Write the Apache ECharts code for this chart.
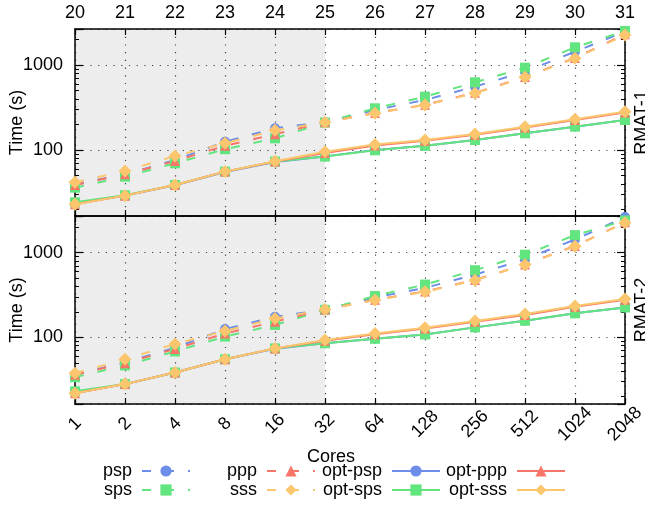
<!DOCTYPE html>
<html>
<head>
<meta charset="utf-8">
<script src="https://cdn.jsdelivr.net/npm/echarts@6/dist/echarts.min.js"></script>
<style>
html, body { margin: 0; padding: 0; background: #fff; }
#chart { width: 645px; height: 512px; }
</style>
</head>
<body>
<div id="chart"></div>
<script>
// x categories (cores) and the scale labels on the top axis
const cores = ['1', '2', '4', '8', '16', '32', '64', '128', '256', '512', '1024', '2048'];
const scales = ['20', '21', '22', '23', '24', '25', '26', '27', '28', '29', '30', '31'];

// RMAT-1, time in seconds
const r1_psp = [39.5, 51.7, 76, 125, 180, 212, 295, 387, 556, 834, 1433, 2466];
const r1_sps = [36, 48.5, 69.6, 102, 137, 210, 309, 424, 625, 929, 1614, 2512];
const r1_ppp = [38.6, 51.7, 74, 112, 153, 212, 272, 340, 470, 720, 1210, 2300];
const r1_sss = [41.7, 56.6, 85, 120, 170, 212, 270, 338, 465, 716, 1200, 2250];
const r1_opt_psp = [23.5, 29, 38.5, 55, 72, 84, 100, 112, 131, 157, 188, 225];
const r1_opt_sps = [24.2, 29.3, 38.7, 55.6, 73, 83.5, 99, 112, 131, 157, 188, 225];
const r1_opt_ppp = [23, 29, 38.7, 55.6, 73, 92, 113, 128, 151, 184, 225, 276];
const r1_opt_sss = [23, 29, 38.7, 55.6, 73.5, 95.5, 116, 131, 154, 188, 230, 282];

// RMAT-2
const r2_psp = [36, 50.7, 75.5, 125, 175, 213, 295, 384, 550, 836, 1430, 2630];
const r2_sps = [33.8, 46.5, 68, 102, 140, 211, 307, 420, 620, 946, 1610, 2400];
const r2_ppp = [36, 49.5, 73, 111, 153, 213, 277, 347, 476, 726, 1200, 2280];
const r2_sss = [37.7, 55, 83.6, 119, 167, 213, 275, 345, 473, 722, 1190, 2260];
const r2_opt_psp = [22, 28, 38.4, 55, 73, 85, 96, 108, 131, 157, 192, 225];
const r2_opt_sps = [23, 28, 38.4, 55, 74, 85, 96, 108, 131, 157, 192, 225];
const r2_opt_ppp = [21.9, 28, 38.4, 55, 74, 91, 109, 127, 153, 184, 229, 277];
const r2_opt_sss = [21.9, 28, 38.4, 55, 74, 93, 111, 130, 156, 188, 234, 283];

const FONT = 'Liberation Sans';
const BLUE = '#6d8ee8', GREEN = '#62e47e', RED = '#f7766a', ORANGE = '#fbc66e';

const chart = echarts.init(document.getElementById('chart'));

function line(name, data, grid, dashed, color, symbol, size) {
    return {
        name: name,
        type: 'line',
        xAxisIndex: grid * 2,
        yAxisIndex: grid * 2,
        data: data,
        symbol: symbol,
        symbolSize: size,
        showAllSymbol: true,
        animation: false,
        itemStyle: { color: color },
        lineStyle: { color: color, width: 2, type: dashed ? [9, 14] : 'solid' }
    };
}

function shade() {
    return {
        silent: true,
        itemStyle: { color: 'rgba(0,0,0,0.07)' },
        data: [[{ xAxis: '1' }, { xAxis: '32' }]]
    };
}

const series = [];
[[r1_psp, r1_sps, r1_ppp, r1_sss, r1_opt_psp, r1_opt_sps, r1_opt_ppp, r1_opt_sss],
 [r2_psp, r2_sps, r2_ppp, r2_sss, r2_opt_psp, r2_opt_sps, r2_opt_ppp, r2_opt_sss]].forEach(function (d, g) {
    series.push(line('psp', d[0], g, true, BLUE, 'circle', 10));
    series.push(line('sps', d[1], g, true, GREEN, 'rect', 10));
    series.push(line('ppp', d[2], g, true, RED, 'triangle', 10));
    series.push(line('sss', d[3], g, true, ORANGE, 'diamond', 13));
    series.push(line('opt-psp', d[4], g, false, BLUE, 'circle', 10));
    series.push(line('opt-sps', d[5], g, false, GREEN, 'rect', 10));
    series.push(line('opt-ppp', d[6], g, false, RED, 'triangle', 10));
    series.push(line('opt-sss', d[7], g, false, ORANGE, 'diamond', 13));
    series[g * 8].markArea = shade();
});

const txt = { fontFamily: FONT, fontSize: 18, color: '#000' };
const border = { show: true, onZero: false, lineStyle: { color: '#000', width: 1.5 } };
const dots = { show: true, lineStyle: { color: '#444', width: 1.2, type: [1.2, 6.5] } };

function xAx(grid, pos, labels, showLabels, grid2) {
    return {
        type: 'category', gridIndex: grid, position: pos, data: labels,
        boundaryGap: false,
        axisLine: border,
        axisTick: { show: true, inside: true, length: 6, lineStyle: { color: '#000', width: 1.2 } },
        axisLabel: { show: showLabels, ...txt, interval: 0 },
        splitLine: grid2 ? dots : { show: false }
    };
}

function yAx(grid, pos, min, max, name) {
    const left = pos === 'left';
    return {
        type: 'log', logBase: 10, gridIndex: grid, position: pos,
        min: min, max: max, splitNumber: 2,
        name: name, nameLocation: 'middle',
        nameGap: left ? 49 : 8, nameRotate: 90, nameMoveOverlap: false,
        nameTextStyle: txt,
        axisLine: border,
        axisTick: { show: true, inside: true, length: 8, lineStyle: { color: '#000', width: 1.2 } },
        minorTick: { show: true, splitNumber: 9, length: 4, lineStyle: { color: '#000', width: 1 } },
        axisLabel: {
            show: left, ...txt, margin: 12, showMinLabel: false, showMaxLabel: false,
            formatter: function (v) { return (Math.abs(v - 100) < 1e-6 || Math.abs(v - 1000) < 1e-6) ? String(Math.round(v)) : ''; }
        },
        splitLine: left ? dots : { show: false }
    };
}

const xBottom = xAx(1, 'bottom', cores, true, true);
xBottom.axisLabel.rotate = 45;
xBottom.axisLabel.align = 'center';
xBottom.axisLabel.verticalAlign = 'middle';
xBottom.axisLabel.margin = 20;
xBottom.axisLabel.padding = [25, 0, 0, 0];
xBottom.name = 'Cores';
xBottom.nameLocation = 'middle';
xBottom.nameGap = 43;
xBottom.nameTextStyle = { ...txt, padding: [0, 38, 0, 0] };

const xTop = xAx(0, 'top', scales, true, false);
xTop.axisLabel.margin = 7;

function legend(names, right) {
    return {
        data: names, orient: 'vertical', align: 'right',
        right: right, top: 462, padding: 0,
        itemWidth: 48, itemHeight: 14, itemGap: 1,
        textStyle: { ...txt, lineHeight: 18, padding: [0, 5, 0, 0] }
    };
}

chart.setOption({
    animation: false,
    textStyle: { fontFamily: FONT },
    grid: [
        { left: 75, right: 20, top: 29, height: 187, outerBoundsMode: 'none' },
        { left: 75, right: 20, top: 216, height: 188, outerBoundsMode: 'none' }
    ],
    xAxis: [
        xAx(0, 'bottom', cores, false, true),
        xTop,
        xBottom,
        xAx(1, 'top', cores, false, false)
    ],
    yAxis: [
        yAx(0, 'left', 16.7, 2650, 'Time (s)'),
        yAx(0, 'right', 16.7, 2650, 'RMAT-1'),
        yAx(1, 'left', 16.3, 2710, 'Time (s)'),
        yAx(1, 'right', 16.3, 2710, 'RMAT-2')
    ],
    legend: [
        legend(['psp', 'sps'], 454),
        legend(['ppp', 'sss'], 329),
        legend(['opt-psp', 'opt-sps'], 204),
        legend(['opt-ppp', 'opt-sss'], 79)
    ],
    series: series
});
</script>
</body>
</html>
